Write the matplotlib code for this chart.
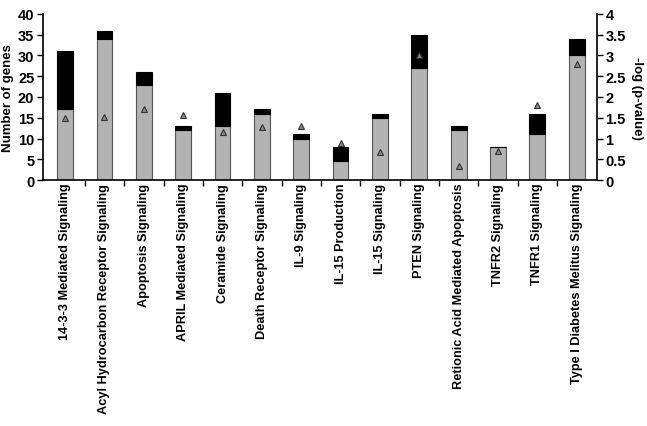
import matplotlib
matplotlib.use("Agg")
import matplotlib.pyplot as plt
import numpy as np

plt.rcParams['font.family'] = ['Liberation Sans', 'DejaVu Sans']
plt.rcParams['font.weight'] = 'bold'

pathways = ["14-3-3 Mediated Signaling", "Acyl Hydrocarbon Receptor Signaling",
            "Apoptosis Signaling", "APRIL Mediated Signaling", "Ceramide Signaling",
            "Death Receptor Signaling", "IL-9 Signaling", "IL-15 Production",
            "IL-15 Signaling", "PTEN Signaling", "Retionic Acid Mediated Apoptosis",
            "TNFR2 Signaling", "TNFR1 Signaling", "Type I Diabetes Melitus Signaling"]
genes_gray = [17, 34, 23, 12, 13, 16, 10, 4.7, 15, 27, 12, 8, 11, 30]
genes_total = [31, 36, 26, 13, 21, 17, 11, 8, 16, 35, 13, 8, 16, 34]
neg_log_p = [1.5, 1.52, 1.72, 1.57, 1.15, 1.28, 1.3, 0.9, 0.68, 3.0, 0.35, 0.69, 1.8, 2.8]

genes_black = [t - g for t, g in zip(genes_total, genes_gray)]
x = np.arange(len(pathways))

fig = plt.figure(figsize=(6.47, 4.27), dpi=100)
ax = fig.add_axes([0.066, 0.576, 0.857, 0.389])

ax.bar(x, genes_gray, width=0.4, color='#b3b3b3', edgecolor='#555555', linewidth=0.8)
ax.bar(x, genes_black, width=0.4, bottom=genes_gray, color='black', edgecolor='black', linewidth=0.8)

ax.set_xlim(-0.57, 13.52)
ax.set_ylim(0, 40)
ax.set_yticks(range(0, 41, 5))
ax.set_ylabel("Number of genes", fontsize=9.5, fontweight='bold', labelpad=3)
ax.tick_params(axis='y', labelsize=10.5, length=4, width=1, pad=2)

ax.set_xticks(np.arange(len(pathways) - 1) + 0.5)
ax.set_xticklabels([])
ax.tick_params(axis='x', which='major', length=4, width=1)
ax.set_xticks(x, minor=True)
ax.set_xticklabels(pathways, minor=True, rotation=90, fontsize=9.2, fontweight='bold')
ax.tick_params(axis='x', which='minor', length=0, pad=2)

ax.spines['top'].set_visible(False)
ax.spines['left'].set_linewidth(1.2)
ax.spines['bottom'].set_linewidth(1.2)
ax.spines['right'].set_visible(False)

ax2 = ax.twinx()
ax2.plot(x, neg_log_p, linestyle='none', marker='^', markersize=5,
         markerfacecolor='#888888', markeredgecolor='#333333', markeredgewidth=0.8)
ax2.set_ylim(0, 4)
ax2.set_yticks(np.arange(0, 4.01, 0.5))
ax2.set_yticklabels(['0', '0.5', '1', '1.5', '2', '2.5', '3', '3.5', '4'])
ax2.tick_params(axis='y', labelsize=10.5, length=4, width=1, pad=2)
ax2.set_ylabel("-log (p-value)", fontsize=9.5, fontweight='bold', rotation=270, labelpad=12)
ax2.spines['top'].set_visible(False)
ax2.spines['left'].set_visible(False)
ax2.spines['bottom'].set_visible(False)
ax2.spines['right'].set_linewidth(1.2)

fig.savefig("out.png", dpi=100)
